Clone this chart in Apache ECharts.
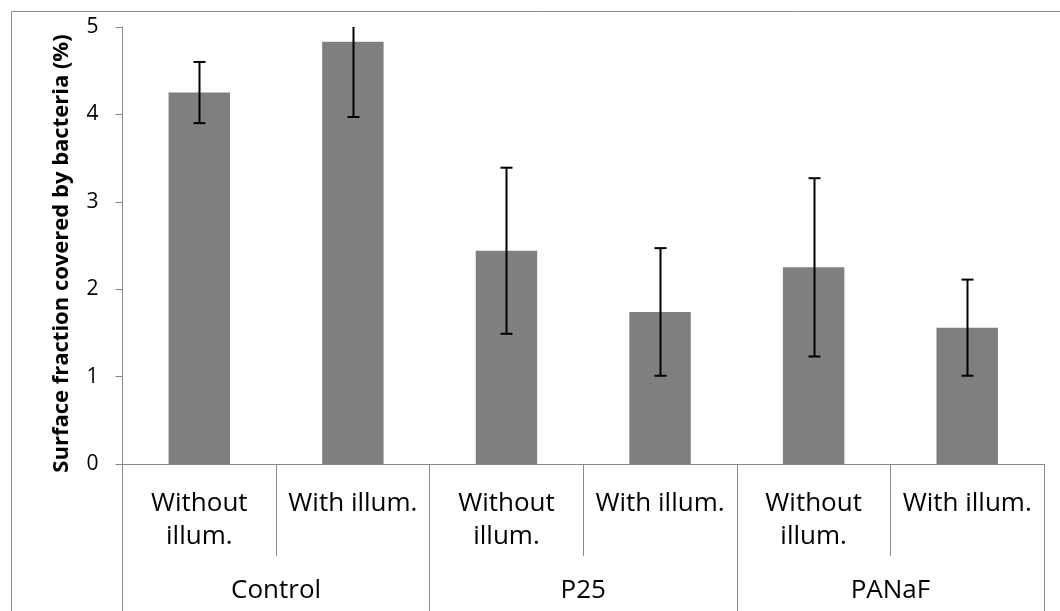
<!DOCTYPE html>
<html>
<head>
<meta charset="utf-8">
<script src="https://cdn.jsdelivr.net/npm/echarts@6/dist/echarts.min.js"></script>
<style>
html,body{margin:0;padding:0;background:#fff;}
#chart{width:1060px;height:611px;}
</style>
</head>
<body>
<div id="chart"></div>
<script>
var conditions = ["Without\nillum.", "With illum.", "Without\nillum.", "With illum.", "Without\nillum.", "With illum."];
var groups = ["Control", "P25", "PANaF"];
var means = [4.25, 4.83, 2.44, 1.74, 2.25, 1.56];
var errors = [0.35, 0.86, 0.95, 0.73, 1.02, 0.55];
var yTicks = [0, 1, 2, 3, 4, 5];

var yMin = 0, yMax = 5;
var errData = means.map(function (m, i) { return [i, m - errors[i], m + errors[i]]; });

var chart = echarts.init(document.getElementById('chart'));
var font = '"Open Sans", sans-serif';
var axisGrey = '#898989';

chart.setOption({
  animation: false,
  backgroundColor: '#fff',
  graphic: [{
    type: 'rect',
    shape: { x: 11.5, y: 11.5, width: 2000, height: 2000 },
    style: { fill: 'none', stroke: '#8c8c8c', lineWidth: 1 },
    silent: true,
    z: -1
  }],
  grid: { left: 122.5, right: 16, top: 27, bottom: 147 },
  xAxis: [{
    type: 'category',
    data: conditions,
    position: 'bottom',
    axisLine: { show: true, lineStyle: { color: axisGrey, width: 1 } },
    axisTick: { show: true, interval: 0, length: 92, lineStyle: { color: axisGrey, width: 1 } },
    axisLabel: {
      interval: 0, margin: 23, fontFamily: font, fontSize: 26, color: '#000', lineHeight: 33
    },
    splitLine: { show: false }
  }, {
    type: 'category',
    data: groups,
    position: 'bottom',
    axisLine: { show: false },
    axisTick: { show: true, interval: 0, length: 160, lineStyle: { color: axisGrey, width: 1 } },
    axisLabel: {
      interval: 0, margin: 110, fontFamily: font, fontSize: 26, color: '#000', lineHeight: 33
    },
    splitLine: { show: false }
  }],
  yAxis: {
    type: 'value',
    min: yMin,
    max: yMax,
    interval: 1,
    name: 'Surface fraction covered by bacteria (%)',
    nameLocation: 'middle',
    nameGap: 50,
    nameTextStyle: { fontFamily: font, fontSize: 22, fontWeight: 'bold', color: '#000', padding: [0, 0, 0, -16] },
    axisLine: { show: true, lineStyle: { color: axisGrey, width: 1 } },
    axisTick: { show: true, length: 7, lineStyle: { color: axisGrey, width: 1 } },
    axisLabel: {
      margin: 24, fontFamily: font, fontSize: 21, color: '#000',
      formatter: function (v) { return yTicks.indexOf(v) >= 0 ? String(v) : ''; }
    },
    splitLine: { show: false }
  },
  series: [{
    type: 'bar',
    xAxisIndex: 0,
    data: means,
    barWidth: '40%',
    itemStyle: { color: '#7f7f7f' },
    silent: true
  }, {
    type: 'custom',
    xAxisIndex: 0,
    data: errData,
    silent: true,
    z: 10,
    renderItem: function (params, api) {
      var x = api.value(0);
      var lo = api.value(1);
      var hi = api.value(2);
      var hiClipped = hi > yMax;
      var hiC = Math.min(hi, yMax);
      var loC = Math.max(lo, yMin);
      var pHi = api.coord([x, hiC]);
      var pLo = api.coord([x, loC]);
      var cx = Math.round(pHi[0]) + 0.5;
      var hw = 6;
      var st = { stroke: '#000', lineWidth: 2 };
      var children = [{
        type: 'line', shape: { x1: cx, y1: pHi[1], x2: cx, y2: pLo[1] }, style: st
      }, {
        type: 'line', shape: { x1: cx - hw, y1: pLo[1], x2: cx + hw, y2: pLo[1] }, style: st
      }];
      if (!hiClipped) {
        children.push({
          type: 'line', shape: { x1: cx - hw, y1: pHi[1], x2: cx + hw, y2: pHi[1] }, style: st
        });
      }
      return { type: 'group', children: children };
    }
  }]
});
</script>
</body>
</html>
